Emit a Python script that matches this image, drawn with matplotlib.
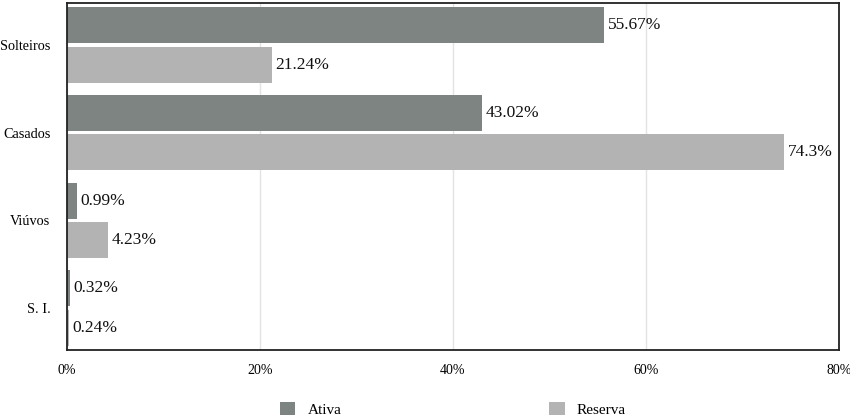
import matplotlib
matplotlib.use("Agg")
import matplotlib.pyplot as plt
import numpy as np

categories = ["Solteiros", "Casados", "Viúvos", "S. I."]
ativa = [55.67, 43.02, 0.99, 0.32]
reserva = [21.24, 74.3, 4.23, 0.24]
series_names = ["Ativa", "Reserva"]
xticks = [0, 20, 40, 60, 80]

plt.rcParams['font.family'] = ['Liberation Serif', 'DejaVu Serif']

fig = plt.figure(figsize=(8.5, 4.15), dpi=100)
ax = fig.add_axes([67/850, 65/415, (839-67)/850, (350-3)/415])

y = np.arange(len(categories))
h = 0.41
off = 0.225
c_ativa = "#7e8481"
c_res = "#b3b3b3"
b1 = ax.barh(y - off, ativa, height=h, color=c_ativa, label=series_names[0], zorder=2)
b2 = ax.barh(y + off, reserva, height=h, color=c_res, label=series_names[1], zorder=2)

for bars, vals in ((b1, ativa), (b2, reserva)):
    for bar, v in zip(bars, vals):
        ax.annotate(f"{v}%", (bar.get_width(), bar.get_y() + bar.get_height() / 2),
                    xytext=(2.5, 0), textcoords="offset points", va="center", ha="left",
                    fontsize=12.5, color="#111111")

ax.set_xlim(0, 80)
ax.set_ylim(3.48, -0.48)
ax.set_yticks(y)
ax.set_yticklabels(categories, fontsize=10.3)
ax.set_xticks(xticks)
ax.set_xticklabels([f"{t}%" for t in xticks], fontsize=10)
ax.tick_params(axis='both', length=0)
ax.tick_params(axis='y', pad=12)
ax.tick_params(axis='x', pad=10)
ax.grid(axis='x', color="#e3e3e3", linewidth=1, zorder=0)
ax.set_axisbelow(True)
for s in ax.spines.values():
    s.set_color("#222222")
    s.set_linewidth(1.3)

fig.legend(handles=[b1, b2], labels=series_names, loc='center',
           bbox_to_anchor=(453/850, 0.014), ncol=2, frameon=False, fontsize=11,
           handlelength=1.0, handleheight=1.0, handletextpad=0.8, columnspacing=13.6)

fig.savefig("out.png", dpi=100)
